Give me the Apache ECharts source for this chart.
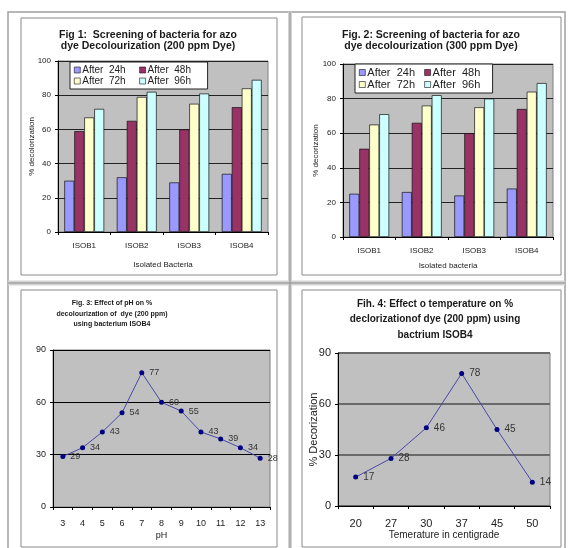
<!DOCTYPE html>
<html>
<head>
<meta charset="utf-8">
<script src="https://cdn.jsdelivr.net/npm/echarts@6/dist/echarts.min.js"></script>
<style>
  html, body { margin: 0; padding: 0; background: #fff; }
  #chart { width: 570px; height: 548px; }
</style>
</head>
<body>
<div id="chart"></div>
<script>
// bar charts (fig 1 and 2)
const bacteria = ['ISOB1', 'ISOB2', 'ISOB3', 'ISOB4']
const hours = ['After  24h', 'After  48h', 'After  72h', 'After  96h']
const hourColors = ['#9999ff', '#993366', '#ffffcc', '#ccffff']

const dye200_24h = [30, 32, 29, 34]
const dye200_48h = [59, 65, 60, 73]
const dye200_72h = [67, 79, 75, 84]
const dye200_96h = [72, 82, 81, 89]

const dye300_24h = [25, 26, 24, 28]
const dye300_48h = [51, 66, 60, 74]
const dye300_72h = [65, 76, 75, 84]
const dye300_96h = [71, 82, 80, 89]

// line charts (fig 3 and 4)
const phValues = ['3', '4', '5', '6', '7', '8', '9', '10', '11', '12', '13']
const phDecolor = [29, 34, 43, 54, 77, 60, 55, 43, 39, 34, 28]

const temps = ['20', '27', '30', '37', '45', '50']
const tempDecolor = [17, 28, 46, 78, 45, 14]

const FONT = 'Liberation Sans, Arial, sans-serif'
const TXT = '#222'

const chart = echarts.init(document.getElementById('chart'))

function barSeries(data, axis) {
  return data.map((vals, i) => ({
    name: hours[i],
    type: 'bar',
    xAxisIndex: axis,
    yAxisIndex: axis,
    barGap: '0%',
    barCategoryGap: '24%',
    silent: true,
    itemStyle: { color: hourColors[i], borderColor: '#111', borderWidth: 0.7 },
    data: vals
  }))
}

function lineSeries(data, axis, fs) {
  return {
    type: 'line',
    xAxisIndex: axis,
    yAxisIndex: axis,
    symbol: 'circle',
    symbolSize: 5,
    silent: true,
    lineStyle: { color: '#4848a8', width: 1 },
    itemStyle: { color: '#000080' },
    label: {
      show: true,
      position: 'right',
      distance: 5,
      color: '#333',
      fontFamily: FONT,
      fontSize: fs
    },
    data: data
  }
}

function catAxis(grid, data, fs, margin, name, nfs, gap) {
  return {
    type: 'category',
    gridIndex: grid,
    data: data,
    axisLine: { lineStyle: { color: '#000', width: 1 } },
    axisTick: { show: true, length: 3, lineStyle: { color: '#000' } },
    axisLabel: { color: TXT, fontFamily: FONT, fontSize: fs, margin: margin },
    name: name,
    nameLocation: 'middle',
    nameGap: gap,
    nameTextStyle: { color: TXT, fontFamily: FONT, fontSize: nfs }
  }
}

function valAxis(grid, max, interval, fs, name, nfs, gap, split) {
  return {
    type: 'value',
    gridIndex: grid,
    min: 0,
    max: max,
    interval: interval,
    axisLine: { show: true, lineStyle: { color: '#000', width: 1 } },
    axisTick: { show: true, length: 3, lineStyle: { color: '#000' } },
    axisLabel: { color: TXT, fontFamily: FONT, fontSize: fs, margin: 7 },
    splitLine: { show: true, lineStyle: split },
    name: name,
    nameLocation: 'middle',
    nameGap: gap,
    nameMoveOverlap: false,
    nameTextStyle: { color: TXT, fontFamily: FONT, fontSize: nfs }
  }
}

function titleText(x, y, text, fs, lh) {
  return {
    type: 'text',
    x: x,
    y: y,
    silent: true,
    style: {
      text: text,
      align: 'center',
      verticalAlign: 'top',
      font: 'bold ' + fs + 'px ' + FONT,
      lineHeight: lh,
      fill: '#1a1a1a'
    }
  }
}

function box(x, y, w, h) {
  return {
    type: 'rect',
    silent: true,
    shape: { x: x, y: y, width: w, height: h },
    style: { fill: null, stroke: '#8a8a8a', lineWidth: 1 }
  }
}

const gridStyle = {
  show: true,
  backgroundColor: '#c0c0c0',
  borderColor: '#808080',
  borderWidth: 1
}

const option = {
  animation: false,
  backgroundColor: '#fff',
  textStyle: { fontFamily: FONT },
  grid: [
    Object.assign({ left: 58, top: 61, width: 210, height: 171 }, gridStyle),
    Object.assign({ left: 343, top: 64, width: 210, height: 173 }, gridStyle),
    Object.assign({ left: 53, top: 350, width: 217, height: 157 }, gridStyle),
    Object.assign({ left: 338, top: 353, width: 212, height: 153 }, gridStyle)
  ],
  legend: [
    {
      data: hours,
      left: 70,
      top: 62,
      width: 132,
      itemWidth: 6,
      itemHeight: 6,
      itemGap: 1,
      padding: [3, 4],
      icon: 'rect',
      backgroundColor: '#fff',
      borderColor: '#222',
      borderWidth: 1,
      selectedMode: false,
      itemStyle: { borderColor: '#111', borderWidth: 0.6 },
      textStyle: { color: TXT, fontFamily: FONT, fontSize: 10, width: 56, lineHeight: 10, padding: [0, 0, 0, -3] }
    },
    {
      data: hours,
      left: 355,
      top: 64,
      width: 134,
      itemWidth: 6,
      itemHeight: 6,
      itemGap: 1,
      padding: [3, 4],
      icon: 'rect',
      backgroundColor: '#fff',
      borderColor: '#222',
      borderWidth: 1,
      selectedMode: false,
      itemStyle: { borderColor: '#111', borderWidth: 0.6 },
      textStyle: { color: TXT, fontFamily: FONT, fontSize: 11, width: 56, lineHeight: 10, padding: [0, 0, 0, -3] }
    }
  ],
  xAxis: [
    catAxis(0, bacteria, 8, 10, 'Isolated Bacteria', 8, 29),
    catAxis(1, bacteria, 8, 10, 'Isolated bacteria', 8, 25),
    catAxis(2, phValues, 9, 12, 'pH', 9, 24),
    catAxis(3, temps, 11, 12, 'Temerature in centigrade', 10, 24)
  ],
  yAxis: [
    valAxis(0, 100, 20, 8, '% decolorization', 8, 22, { color: '#222', width: 1 }),
    valAxis(1, 100, 20, 8, '% decorization', 8, 23, { color: '#222', width: 1 }),
    valAxis(2, 90, 30, 9, '', 8, 20, { color: '#000', width: 1 }),
    valAxis(3, 90, 30, 11, '% Decorization', 11, 19, { color: '#6a6a6a', width: 2 })
  ],
  series: [
    ...barSeries([dye200_24h, dye200_48h, dye200_72h, dye200_96h], 0),
    ...barSeries([dye300_24h, dye300_48h, dye300_72h, dye300_96h], 1),
    lineSeries(phDecolor, 2, 9),
    lineSeries(tempDecolor, 3, 10)
  ],
  graphic: [
    // page table frame
    {
      type: 'rect', silent: true,
      shape: { x: 8, y: 12, width: 557, height: 545 },
      style: { fill: null, stroke: '#a0a0a0', lineWidth: 1.5 }
    },
    {
      type: 'line', silent: true,
      shape: { x1: 8, y1: 283, x2: 565, y2: 283 },
      style: { stroke: '#d4d4d4', lineWidth: 5 }
    },
    {
      type: 'line', silent: true,
      shape: { x1: 290, y1: 12, x2: 290, y2: 548 },
      style: { stroke: '#d4d4d4', lineWidth: 4 }
    },
    {
      type: 'line', silent: true,
      shape: { x1: 8, y1: 283, x2: 565, y2: 283 },
      style: { stroke: '#8a8a8a', lineWidth: 1 }
    },
    {
      type: 'line', silent: true,
      shape: { x1: 290, y1: 12, x2: 290, y2: 548 },
      style: { stroke: '#8a8a8a', lineWidth: 1 }
    },
    // chart boxes
    box(21, 18, 256, 257),
    box(302, 17, 259, 258),
    box(21, 290, 256, 257),
    box(302, 290, 259, 257),
    // titles
    titleText(148, 29, 'Fig 1:  Screening of bacteria for azo\ndye Decolourization (200 ppm Dye)', 10.5, 11.5),
    titleText(431, 29, 'Fig. 2: Screening of bacteria for azo\ndye decolourization (300 ppm Dye)', 10.5, 11.5),
    titleText(112, 298, 'Fig. 3: Effect of pH on %\ndecolourization of  dye (200 ppm)\nusing bacterium ISOB4', 7, 10.5),
    titleText(435, 296, 'Fih. 4: Effect o temperature on %\ndeclorizationof dye (200 ppm) using\nbactrium ISOB4', 10, 15.5)
  ]
}

chart.setOption(option)
</script>
</body>
</html>
